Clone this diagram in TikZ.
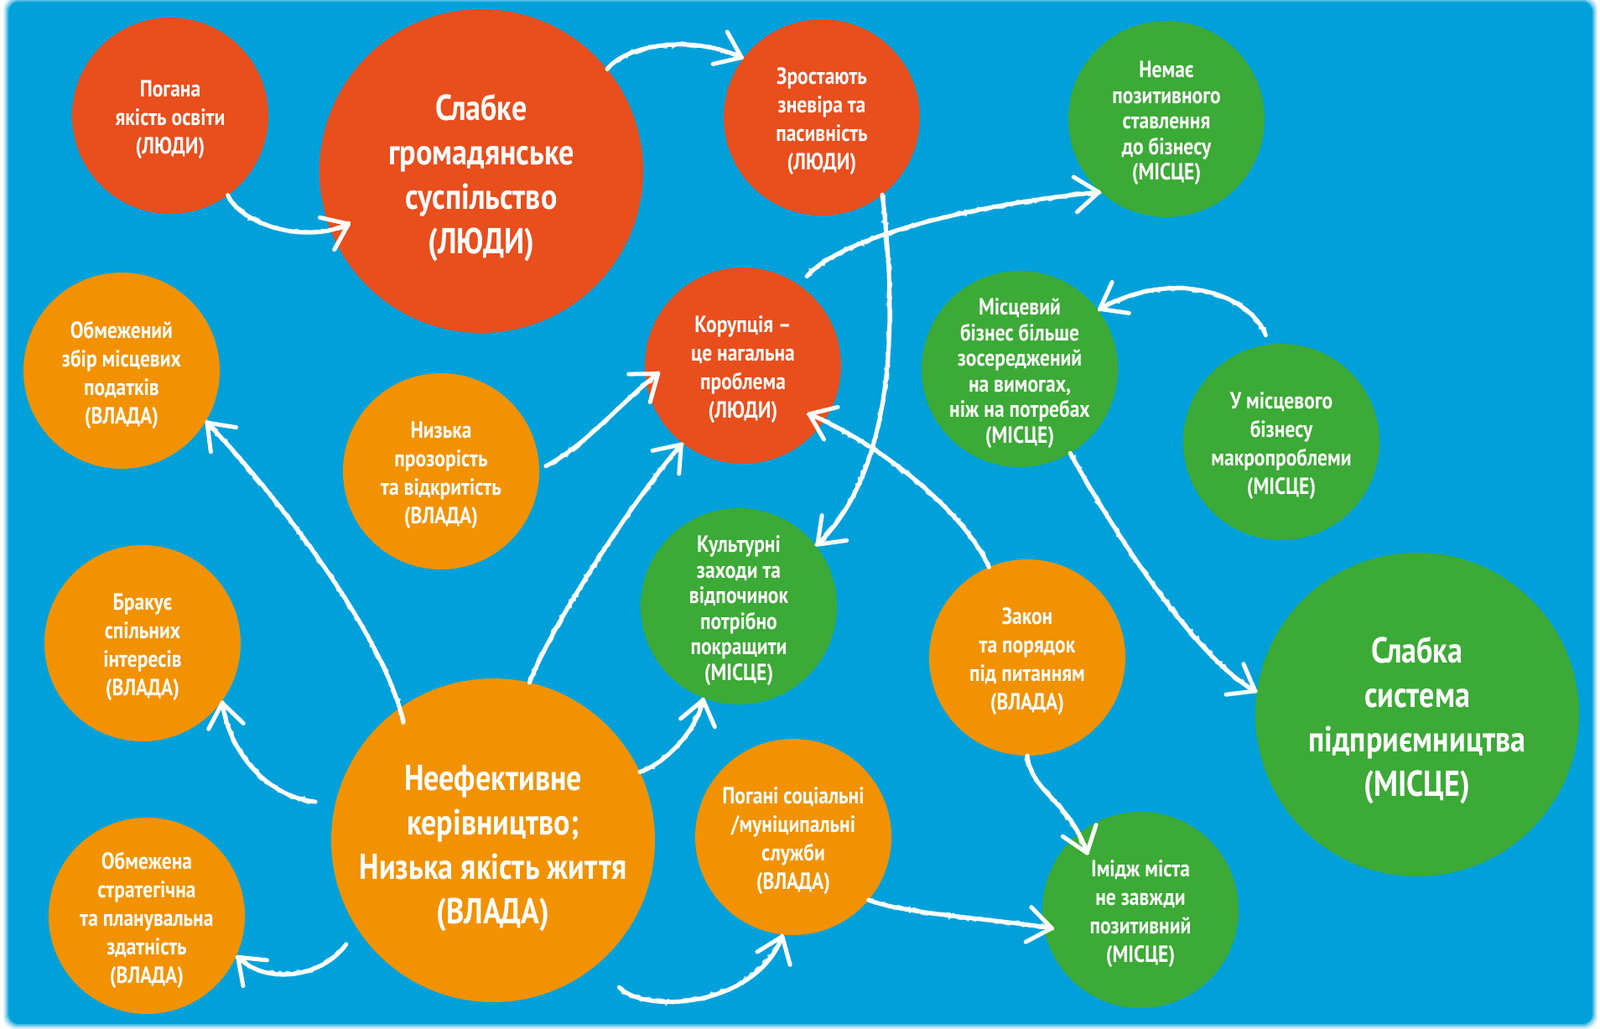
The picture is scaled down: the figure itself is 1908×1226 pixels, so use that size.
\documentclass[tikz,border=0pt]{standalone}
\usepackage{fontspec}
\setmainfont{PT Sans}[FakeStretch=0.84]
\usetikzlibrary{arrows.meta,decorations.pathmorphing,calc}
\definecolor{bgblue}{HTML}{00A1DB}
\definecolor{cred}{HTML}{E94E1D}
\definecolor{corg}{HTML}{F29200}
\definecolor{cgrn}{HTML}{3CAA36}
\begin{document}
\begin{tikzpicture}[x=1pt,y=-1pt,
  bub/.style={circle, inner sep=0pt, outer sep=0pt, minimum size=234pt},
  bigbub/.style={circle, inner sep=0pt, outer sep=0pt, minimum size=386pt},
  fr/.style={fill=cred}, fo/.style={fill=corg}, fg/.style={fill=cgrn},
  txt/.style={text=white, align=center, inner sep=0pt, yshift=-5pt, font=\bfseries\fontsize{28}{34}\selectfont},
  txtt/.style={txt, font=\bfseries\fontsize{28}{30.5}\selectfont},
  bigtxt/.style={txt, font=\bfseries\fontsize{43}{53}\selectfont},
  chalk/.style={draw=white, line width=5pt, line cap=round,
    -{Straight Barb[round,length=28pt,width=42pt]},
    preaction={-, draw=white, line width=4pt, opacity=0.8, decorate,
      decoration={random steps, segment length=4pt, amplitude=2pt}}}
]
\useasboundingbox (0,0) rectangle (1908,1226);
\fill[white] (0,0) rectangle (1908,1226);
\foreach \d/\o in {6/0.15,4/0.3,2/0.5}
  \fill[bgblue, opacity=\o, rounded corners=14pt] (10-\d,2-\d) rectangle (1899+\d,1221+\d);
\fill[bgblue, rounded corners=12pt] (10,2) rectangle (1899,1221);

% circles
\node[bub, fr] (P1) at (203,138) {};
\node[bigbub, fr] (P2) at (574,204) {};
\node[bub, fr] (P3) at (980,140) {};
\node[bub, fg] (P4) at (1391,142) {};
\node[bub, fo] (P5) at (145,442) {};
\node[bub, fo] (P6) at (526,562) {};
\node[bub, fr] (P7) at (886,436) {};
\node[bub, fg] (P8) at (1216,440) {};
\node[bub, fg] (P9) at (1528,527) {};
\node[bub, fo] (P10) at (170,767) {};
\node[bub, fg] (P11) at (881,723) {};
\node[bub, fo] (P12) at (1225,784) {};
\node[bigbub, fg] (P13) at (1690,852) {};
\node[bub, fo] (P14) at (175,1092) {};
\node[bigbub, fo] (P15) at (588,1002) {};
\node[bub, fo] (P16) at (946,998) {};
\node[bub, fg] (P17) at (1360,1085) {};

% texts
\node[txt] (T1) at (P1) {Погана\\якість освіти\\(ЛЮДИ)};
\node[bigtxt, yshift=-3pt] (T2) at (P2) {Слабке\\громадянське\\суспільство\\(ЛЮДИ)};
\node[txt] (T3) at (P3) {Зростають\\зневіра та\\пасивність\\(ЛЮДИ)};
\node[txtt] (T4) at (P4) {Немає\\позитивного\\ставлення\\до бізнесу\\(МІСЦЕ)};
\node[txt] (T5) at (P5) {Обмежений\\збір місцевих\\податків\\(ВЛАДА)};
\node[txt] (T6) at (P6) {Низька\\прозорість\\та відкритість\\(ВЛАДА)};
\node[txt] (T7) at (P7) {Корупція –\\це нагальна\\проблема\\(ЛЮДИ)};
\node[txtt] (T8) at (P8) {Місцевий\\бізнес більше\\зосереджений\\на вимогах,\\ніж на потребах\\(МІСЦЕ)};
\node[txt] (T9) at (P9) {У місцевого\\бізнесу\\макропроблеми\\(МІСЦЕ)};
\node[txt] (T10) at (P10) {Бракує\\спільних\\інтересів\\(ВЛАДА)};
\node[txtt] (T11) at (P11) {Культурні\\заходи та\\відпочинок\\потрібно\\покращити\\(МІСЦЕ)};
\node[txt] (T12) at (P12) {Закон\\та порядок\\під питанням\\(ВЛАДА)};
\node[bigtxt, yshift=-2pt] (T13) at (P13) {Слабка\\система\\підприємництва\\(МІСЦЕ)};
\node[txt] (T14) at (P14) {Обмежена\\стратегічна\\та планувальна\\здатність\\(ВЛАДА)};
\node[bigtxt, yshift=-5pt] (T15) at (P15) {Неефективне\\керівництво;\\Низька якість життя\\(ВЛАДА)};
\node[txt] (T16) at (P16) {Погані соціальні\\/муніципальні\\служби\\(ВЛАДА)};
\node[txt] (T17) at (P17) {Імідж міста\\не завжди\\позитивний\\(МІСЦЕ)};

% arrows
\draw[chalk] (P1.-54) .. controls (285,265) and (360,292) .. ($(P2.202)!-25pt!(360,292)$);
\draw[chalk] (P2.39) .. controls (745,55) and (820,40) .. (P3.143);
\draw[chalk] (P3.-52) .. controls (1075,420) and (1055,570) .. (P11.38);
\draw[chalk] ($(P7.55)!14pt!(1000,285)$) .. controls (1000,285) and (1150,245) .. (P4.-132);
\draw[chalk] ($(P9.97)!12pt!(1490,350)$) .. controls (1490,350) and (1400,320) .. (P8.37);
\draw[chalk] (P8.-59) .. controls (1320,620) and (1420,780) .. (P13.172);
\draw[chalk] (P12.113) .. controls (1150,610) and (1050,530) .. ($(P7.-34)!-22pt!(1050,530)$);
\draw[chalk] (P12.-90) .. controls (1230,945) and (1275,955) .. ($(P17.128)!-28pt!(1275,955)$);
\draw[chalk] (P16.-40) .. controls (1080,1090) and (1180,1095) .. ($(P17.190)!-12pt!(1180,1095)$);
\draw[chalk] ($(P15.-50)!38pt!(770,1210)$) .. controls (770,1210) and (900,1200) .. (P16.-96);
\draw[chalk] (P15.25) .. controls (795,910) and (830,870) .. (P11.-111);
\draw[chalk] (P15.77) .. controls (660,740) and (760,590) .. (P7.-128);
\draw[chalk] ($(P15.125)!-18pt!(460,760)$) .. controls (460,760) and (330,590) .. (P5.-31);
\draw[chalk] ($(P15.167)!24pt!(320,950)$) .. controls (320,950) and (275,900) .. (P10.-36);
\draw[chalk] ($(P15.-147)!23pt!(385,1165)$) .. controls (385,1165) and (320,1175) .. (P14.-24);
\draw[chalk] ($(P6.1)!9pt!(700,530)$) .. controls (700,530) and (740,480) .. ($(P7.190)!-20pt!(740,480)$);
\end{tikzpicture}
\end{document}
